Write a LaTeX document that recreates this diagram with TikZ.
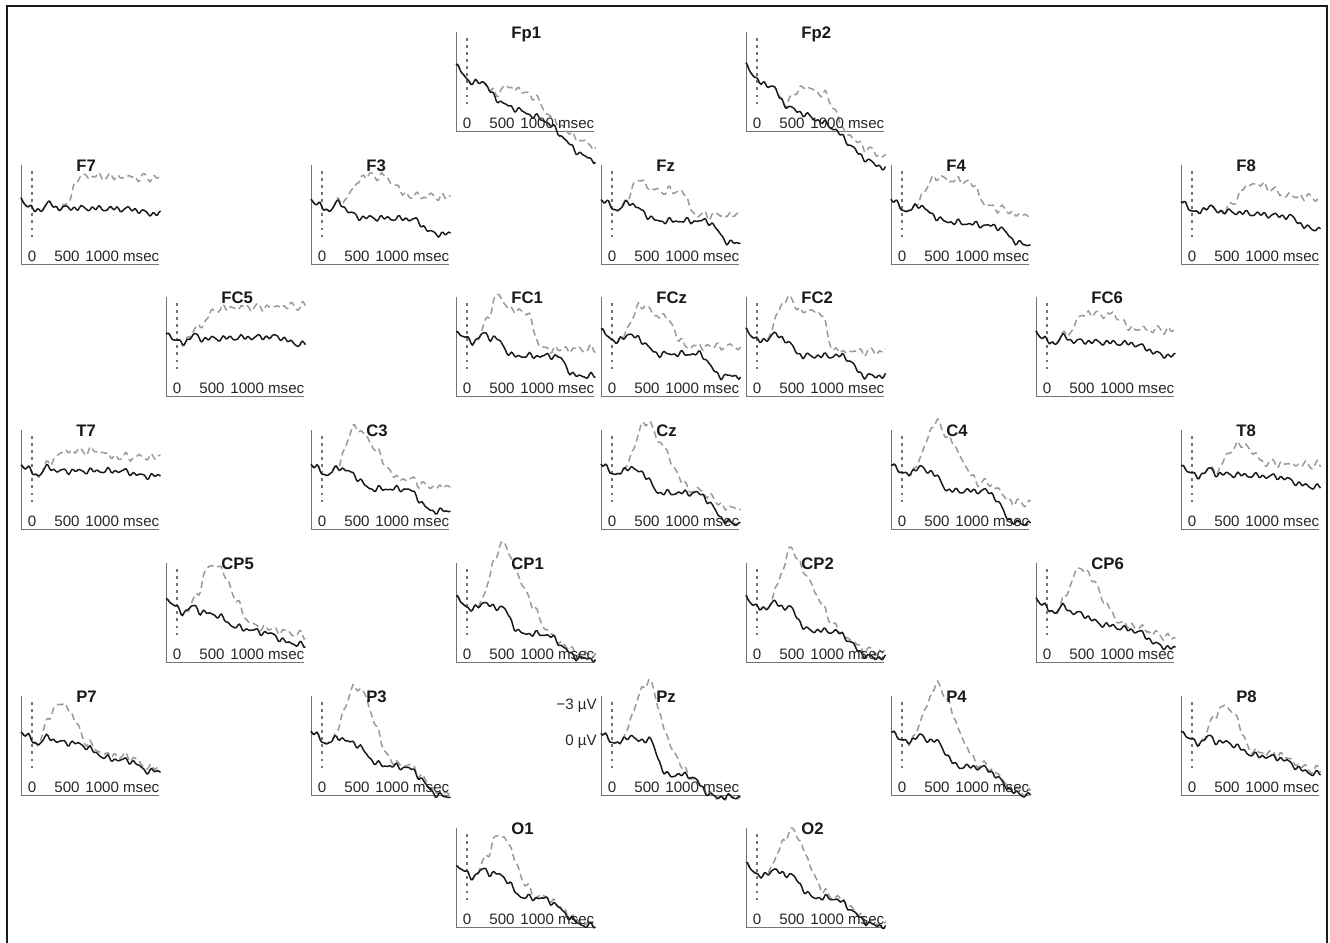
\documentclass[tikz,border=0pt]{standalone}
\usepackage{fontspec}
\setmainfont{Liberation Sans}
\usepackage{tikz}

\def\erpsolid#1,#2,#3,#4,#5,#6,#7,#8,#9\relax{\def\eS{#1}\def\eK{#2}\def\eDa{#3}\def\eAa{#4}\def\eBa{#5}\def\eDb{#6}\def\eAb{#7}\def\eBb{#8}\def\ePh{#9}}
\def\erpdash#1,#2,#3,#4,#5,#6,#7\relax{\def\eA{#1}\def\eRa{#2}\def\eRb{#3}\def\eFa{#4}\def\eFb{#5}\def\eL{#6}\def\eDd{#7}}
\def\ramp#1#2{(0.5-0.5*cos(180*min(max((\xx-(#1))/((#2)-(#1)),0),1)))}

\newcommand{\erp}[5]{%
	\begin{scope}[shift={(#2,#3)}]
		\erpsolid#4\relax
		\erpdash#5\relax
		\gdef\solpts{}\gdef\devpts{}%
		\foreach \xx in {0,1.5,...,140.5}{%
			\pgfmathsetmacro\yb{\eS+(\eK)*\xx+(\eDa)*\ramp{\eAa}{\eBa}+7*(1-min(\xx/10,1))-4*sin(min(max((\xx-10)*15,0),360))+1.5*sin(41*\xx+\ePh)+1.4*sin(23*\xx+1.7*\ePh)+0.9*sin(59*\xx+2.3*\ePh)}%
			\pgfmathsetmacro\yr{\ramp{\eAb}{\eBb}}%
			\pgfmathsetmacro\ys{\yb+(\eDb)*\yr}%
			\pgfmathsetmacro\yd{\yb+(\eDd)*\yr+(\eA)*(\ramp{\eRa}{\eRb}-(1-\eL)*\ramp{\eFa}{\eFb})+1.8*sin(31*\xx+3*\ePh)*\ramp{\eRa-6}{\eRa}}%
			\xdef\solpts{\solpts (\xx,\ys)}%
			\xdef\devpts{\devpts (\xx,\yd)}%
		}%
		\coordinate (#1-o) at (0,0);
		\draw[axisline] (0,99) -- (#1-o) -- (138,0);
		\draw[onset] (11,27) -- (11,95);
		\edef\erpcurves{\noexpand\draw[deviant] plot coordinates {\devpts}; \noexpand\draw[standard] plot coordinates {\solpts};}%
		\erpcurves
		\node[ticklabel] (#1-0) at (11,2.5) {0};
		\node[ticklabel] (#1-500) at (46,2.5) {500};
		\node[ticklabel,anchor=base west] (#1-1000) at (64,2.5) {1000 msec};
		\node[chan] (#1) at (55,92) {#1};
	\end{scope}}

\begin{document}
\begin{tikzpicture}[x=0.02cm,y=0.02cm]
		\tikzstyle{axisline}=[draw=black!55, line width=0.5pt]
		\tikzstyle{onset}=[draw=black!55, line width=1.1pt, dash pattern=on 1.4pt off 2.6pt]
		\tikzstyle{standard}=[draw=black!90, line width=0.85pt, line join=round]
		\tikzstyle{deviant}=[draw=black!40, line width=0.85pt, dash pattern=on 3.8pt off 2.3pt]
		\tikzstyle{ticklabel}=[font=\fontsize{8.6}{10}\selectfont, text=black!85, inner sep=0pt, anchor=base]
		\tikzstyle{chan}=[font=\fontsize{9.5}{11}\selectfont\bfseries, text=black!90, inner sep=0pt, anchor=base west]
		\tikzstyle{frameline}=[draw=black!90, line width=1.2pt]
		
		\useasboundingbox (0,0) rectangle (1330,943);
		\draw[frameline] (7,0) -- (7,937) -- (1327,937) -- (1327,0);
		
		\erp{Fp1}{456}{812}{58,-0.4,-12,20,50,-20,85,130,10}{20,32,55,75,98,0.3,-12}
		\erp{Fp2}{746}{812}{58,-0.45,-15,15,45,-18,80,125,50}{28,35,60,80,100,0.2,-12}
		
		\erp{F7}{21}{679}{57,-0.02,0,40,60,-4,110,130,80}{32,42,60,300,310,1,0}
		\erp{F3}{311}{679}{58,-0.03,-10,28,50,-14,100,125,120}{42,25,55,70,100,0.55,0}
		\erp{Fz}{601}{679}{58,0,-15,30,58,-22,105,130,170}{30,22,40,80,95,0.2,0}
		\erp{F4}{891}{679}{58,-0.1,-10,30,55,-15,105,130,200}{42,22,48,78,98,0.45,-5}
		\erp{F8}{1181}{679}{56,-0.08,0,40,60,-10,108,128,250}{30,40,72,76,108,0.7,0}
		
		\erp{FC5}{166}{547}{56,0.03,0,40,60,-8,110,132,290}{30,18,55,300,310,1,0}
		\erp{FC1}{456}{547}{58,0,-18,38,58,-20,100,120,330}{45,22,44,68,88,0.15,0}
		\erp{FCz}{601}{547}{58,0,-16,35,58,-22,98,120,15}{38,20,44,62,86,0.2,0}
		\erp{FC2}{746}{547}{58,0,-18,35,58,-20,96,120,60}{45,20,44,72,90,0.1,0}
		\erp{FC6}{1036}{547}{57,-0.05,0,40,60,-10,95,130,100}{28,25,50,78,95,0.55,0}
		
		\erp{T7}{21}{414}{58,0,0,40,60,-5,100,125,140}{20,20,45,75,95,0.7,0}
		\erp{C3}{311}{414}{58,0,-18,35,62,-22,95,122,180}{50,24,46,52,90,0.2,-8}
		\erp{Cz}{601}{414}{58,0,-22,38,60,-30,95,130,220}{57,22,48,50,92,0.05,-18}
		\erp{C4}{891}{414}{58,0,-20,38,60,-32,95,125,260}{55,22,48,52,90,0.15,-20}
		\erp{T8}{1181}{414}{57,-0.05,0,40,60,-8,95,130,300}{30,30,58,62,85,0.45,0}
		
		\erp{CP5}{166}{281}{57,-0.2,-8,50,70,-5,105,120,340}{50,22,47,50,90,0.1,0}
		\erp{CP1}{456}{281}{57,-0.05,-25,45,65,-22,88,125,20}{64,22,47,50,100,0,-17}
		\erp{CP2}{746}{281}{57,-0.05,-22,42,62,-24,88,125,70}{60,22,47,50,98,0,-18}
		\erp{CP6}{1036}{281}{57,-0.2,-6,45,65,-10,100,125,110}{45,22,44,48,88,0.1,-4}
		
		\erp{P7}{21}{148}{57,-0.1,-12,55,90,-8,110,125,150}{38,15,40,42,68,0.1,-8}
		\erp{P3}{311}{148}{57,-0.1,-20,40,70,-25,95,130,190}{58,20,46,50,85,0.05,-25}
		\erp{Pz}{601}{148}{55,0,-35,48,66,-22,85,115,230}{57,20,46,49,92,0,-22}
		\erp{P4}{891}{148}{57,-0.05,-25,42,68,-25,90,130,270}{57,20,48,52,90,0.05,-25}
		\erp{P8}{1181}{148}{57,-0.1,-10,45,75,-12,95,130,310}{35,20,42,48,72,0.1,-12}
		
		\erp{O1}{456}{16}{55,-0.05,-22,42,68,-25,85,130,350}{40,20,45,48,82,0.05,-25}
		\erp{O2}{746}{16}{55,-0.05,-22,42,68,-25,85,130,30}{45,20,47,50,85,0.05,-25}
		
		\node[ticklabel,anchor=base east] (Pz-m3) at ([shift={(-4,85)}]Pz-o) {−3 µV};
		\node[ticklabel,anchor=base east] (Pz-z) at ([shift={(-4,49)}]Pz-o) {0 µV};
\end{tikzpicture}
\end{document}
